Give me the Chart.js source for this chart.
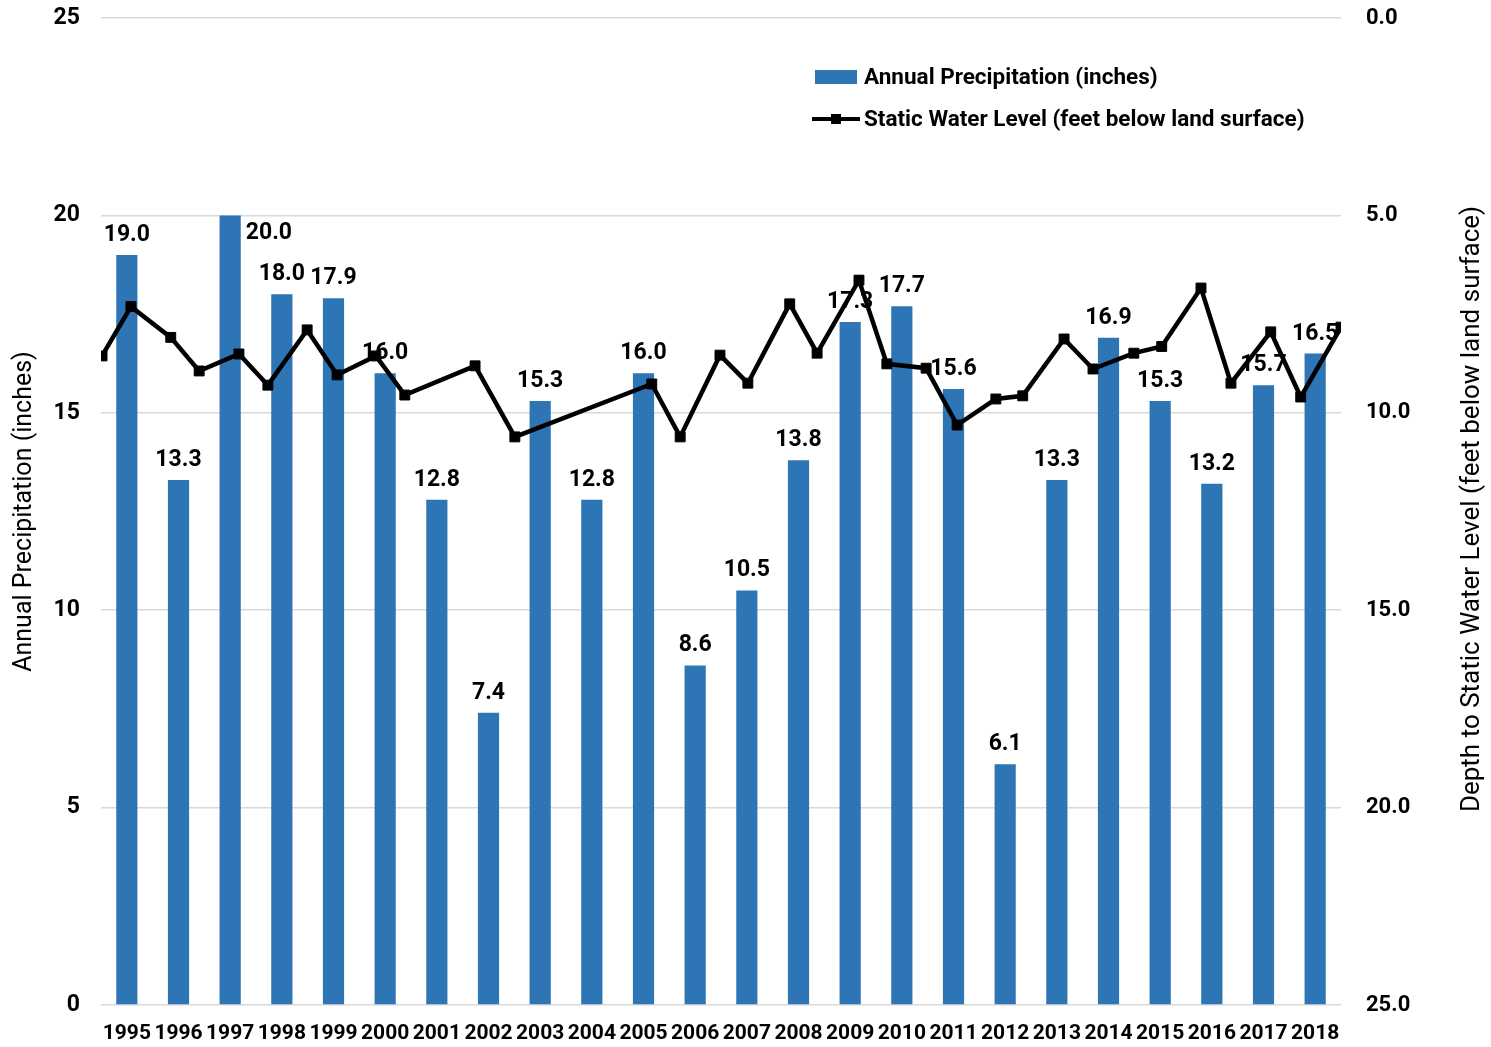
<!DOCTYPE html>
<html>
<head>
<meta charset="utf-8">
<script src="https://cdn.jsdelivr.net/npm/chart.js@4.4.1/dist/chart.umd.min.js"></script>
<style>
  html, body { margin: 0; padding: 0; background: #ffffff; }
  #wrap { width: 1491px; height: 1047px; position: relative; }
</style>
</head>
<body>
<div id="wrap"><canvas id="chart" width="1491" height="1047"></canvas></div>
<script>
// Annual precipitation by year (inches)
const years = ['1995', '1996', '1997', '1998', '1999', '2000', '2001', '2002', '2003', '2004', '2005', '2006',
               '2007', '2008', '2009', '2010', '2011', '2012', '2013', '2014', '2015', '2016', '2017', '2018'];
const precipitation = [19.0, 13.3, 20.0, 18.0, 17.9, 16.0, 12.8, 7.4, 15.3, 12.8, 16.0, 8.6,
                       10.5, 13.8, 17.3, 17.7, 15.6, 6.1, 13.3, 16.9, 15.3, 13.2, 15.7, 16.5];

// Static water level measurements: date (decimal year) and depth (feet below land surface)
const levelDates = [1995.02, 1995.58, 1996.35, 1996.90, 1997.67, 1998.23, 1998.99, 1999.57, 2000.32, 2000.88,
                    2002.24, 2003.01, 2005.66, 2006.21, 2006.98, 2007.52, 2008.33, 2008.86, 2009.67, 2010.21,
                    2010.97, 2011.57, 2012.32, 2012.84, 2013.64, 2014.20, 2014.99, 2015.53, 2016.29, 2016.87,
                    2017.64, 2018.22, 2019.00];
const levelDepths = [8.56, 7.31, 8.09, 8.94, 8.51, 9.30, 7.90, 9.04, 8.56, 9.55,
                     8.81, 10.61, 9.27, 10.61, 8.54, 9.25, 7.24, 8.49, 6.64, 8.76,
                     8.87, 10.31, 9.65, 9.57, 8.13, 8.89, 8.49, 8.32, 6.84, 9.25,
                     7.95, 9.60, 7.83];

// Axis ranges and tick step
const precipRange = [0, 25];
const depthRange = [0, 25];
const tickStep = 5;

const seriesNames = ['Annual Precipitation (inches)', 'Static Water Level (feet below land surface)'];
const rightTitle = 'Depth to Static Water Level (feet below land surface)';

const BAR_COLOR = '#2E75B6';
const FONT = "Roboto, 'Liberation Sans', Arial, sans-serif";

// Value labels above the bars, drawn before the line so the line passes over them
const barLabels = {
  id: 'barLabels',
  afterDatasetDraw(chart, args) {
    if (args.index !== 0) return;
    const ctx = chart.ctx;
    const maxVal = Math.max(...precipitation);
    ctx.save();
    ctx.font = 'bold 23px ' + FONT;
    ctx.fillStyle = '#000';
    ctx.textBaseline = 'alphabetic';
    args.meta.data.forEach((el, i) => {
      const v = precipitation[i];
      const txt = v.toFixed(1);
      if (v === maxVal) {
        // the tallest bar reaches the gridline, so its label sits beside it
        ctx.textAlign = 'left';
        ctx.fillText(txt, el.x + el.width / 2 + 5, el.y + 24);
      } else {
        ctx.textAlign = 'center';
        ctx.fillText(txt, el.x, el.y - 14);
      }
    });
    ctx.restore();
  }
};

// Legend inside the plot and the rotated right-hand axis title
const decorations = {
  id: 'decorations',
  afterDraw(chart) {
    const ctx = chart.ctx;
    ctx.save();
    // legend
    ctx.fillStyle = BAR_COLOR;
    ctx.fillRect(815, 70, 42, 14);
    ctx.strokeStyle = '#000';
    ctx.lineWidth = 4;
    ctx.beginPath();
    ctx.moveTo(812, 119);
    ctx.lineTo(860, 119);
    ctx.stroke();
    ctx.fillStyle = '#000';
    ctx.fillRect(831, 114, 10, 10);
    ctx.font = 'bold 22.5px ' + FONT;
    ctx.textAlign = 'left';
    ctx.textBaseline = 'middle';
    ctx.fillText(seriesNames[0], 864, 78);
    ctx.fillText(seriesNames[1], 864, 120);
    // right axis title, reading bottom to top
    ctx.translate(1472, 509);
    ctx.rotate(-Math.PI / 2);
    ctx.font = '26px ' + FONT;
    ctx.textAlign = 'center';
    ctx.fillText(rightTitle, 0, 0);
    ctx.restore();
  }
};

// keep the plot's top edge on the 25 gridline regardless of tick label padding
function fixVerticalPadding(s) {
  s.paddingTop = 18;
  s.paddingBottom = 0;
}

new Chart(document.getElementById('chart'), {
  type: 'bar',
  data: {
    labels: years,
    datasets: [
      {
        type: 'bar',
        label: seriesNames[0],
        data: precipitation,
        backgroundColor: BAR_COLOR,
        grouped: false,
        barPercentage: 0.41,
        categoryPercentage: 1,
        xAxisID: 'x',
        yAxisID: 'y',
        order: 2
      },
      {
        type: 'line',
        label: seriesNames[1],
        data: levelDates.map((d, i) => ({ x: d, y: levelDepths[i] })),
        xAxisID: 'xLevel',
        yAxisID: 'yLevel',
        borderColor: '#000',
        borderWidth: 4.5,
        tension: 0,
        pointStyle: 'rect',
        pointRadius: 7,
        pointBorderWidth: 1,
        pointBackgroundColor: '#000',
        pointBorderColor: '#000',
        order: 1
      }
    ]
  },
  options: {
    responsive: false,
    devicePixelRatio: 1,
    animation: false,
    layout: { padding: 0, autoPadding: false },
    plugins: { legend: { display: false }, tooltip: { enabled: false } },
    scales: {
      x: {
        type: 'category',
        offset: true,
        grid: { display: false },
        border: { display: false },
        ticks: {
          color: '#000',
          font: { family: FONT, size: 21, weight: 'bold' },
          autoSkip: false,
          maxRotation: 0,
          minRotation: 0,
          padding: 8
        },
        afterFit(s) { s.height = 42; s.paddingLeft = 0; s.paddingRight = 0; }
      },
      xLevel: {
        type: 'linear',
        display: false,
        min: 1995,
        max: 2019,
        offset: false
      },
      y: {
        position: 'left',
        min: precipRange[0],
        max: precipRange[1],
        ticks: {
          stepSize: tickStep,
          color: '#000',
          font: { family: FONT, size: 23, weight: 'bold' },
          padding: 21
        },
        grid: { color: '#d9d9d9', lineWidth: 1.5, drawTicks: false },
        border: { display: false },
        title: {
          display: true,
          text: seriesNames[0],
          color: '#000',
          font: { family: FONT, size: 25, weight: 'normal' },
          padding: { top: 10, bottom: 0 }
        },
        afterFit(s) { s.width = 101; fixVerticalPadding(s); }
      },
      yLevel: {
        position: 'right',
        reverse: true,
        min: depthRange[0],
        max: depthRange[1],
        ticks: {
          stepSize: tickStep,
          color: '#000',
          font: { family: FONT, size: 22, weight: 'bold' },
          padding: 25,
          callback: v => Number(v).toFixed(1)
        },
        grid: { display: false, drawTicks: false },
        border: { display: false },
        afterFit(s) { s.width = 150; fixVerticalPadding(s); }
      }
    }
  },
  plugins: [barLabels, decorations]
});
</script>
</body>
</html>
